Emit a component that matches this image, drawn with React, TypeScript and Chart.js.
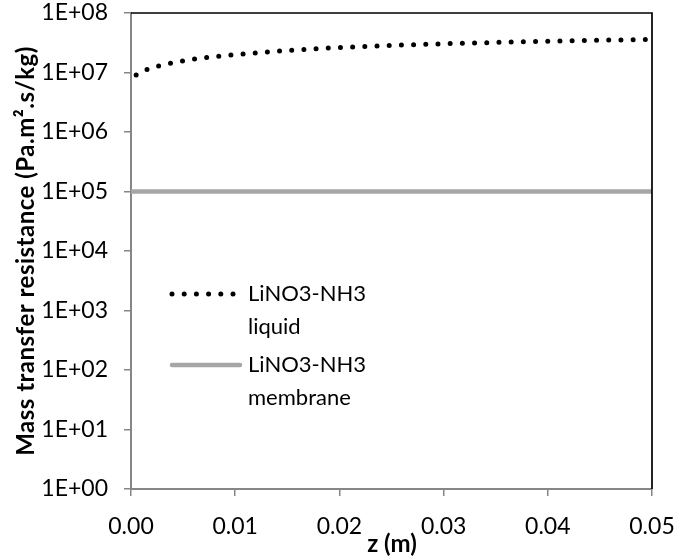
import React, { useEffect, useRef } from "react";
import { Chart, registerables } from "chart.js";

Chart.register(...registerables);

// Position along the channel (m)
const zPositions = [0, 0.001, 0.002, 0.003, 0.004, 0.005, 0.006, 0.008, 0.01, 0.012, 0.014, 0.017, 0.02, 0.025, 0.03, 0.035, 0.04, 0.045, 0.05];
// Liquid-side mass transfer resistance (Pa.m².s/kg)
const liquidResistance = [8.0e6, 1.02e7, 1.2e7, 1.33e7, 1.45e7, 1.56e7, 1.67e7, 1.85e7, 2.0e7, 2.14e7, 2.28e7, 2.46e7, 2.63e7, 2.85e7, 3.04e7, 3.2e7, 3.35e7, 3.48e7, 3.6e7];
// Membrane resistance (constant along z)
const membraneZ = [0, 0.05];
const membraneResistance = [1e5, 1e5];

const seriesNames = [["LiNO3-NH3", "liquid"], ["LiNO3-NH3", "membrane"]];

const xTickValues = [0, 0.01, 0.02, 0.03, 0.04, 0.05];
const xTickLabels = ["0.00", "0.01", "0.02", "0.03", "0.04", "0.05"];
const yTickValues = [1, 10, 100, 1e3, 1e4, 1e5, 1e6, 1e7, 1e8];
const yTickLabels = ["1E+00", "1E+01", "1E+02", "1E+03", "1E+04", "1E+05", "1E+06", "1E+07", "1E+08"];

const xTitle = "z (m)";
const yTitle = "Mass transfer resistance (Pa.m\u00B2.s/kg)";

const FONT = "Lato, 'DejaVu Sans', sans-serif";
const AXIS_GREY = "#868686";

const decorations = {
  id: "decorations",
  afterDraw(chart: any) {
    const { ctx, chartArea } = chart;
    const { left, right, top, bottom } = chartArea;
    ctx.save();

    // black frame on top and right of the plot area
    ctx.strokeStyle = "#000";
    ctx.lineWidth = 1.7;
    ctx.beginPath();
    ctx.moveTo(left, top);
    ctx.lineTo(right, top);
    ctx.lineTo(right, bottom);
    ctx.stroke();

    // axis titles
    ctx.fillStyle = "#000";
    ctx.font = `bold 24px ${FONT}`;
    ctx.textAlign = "center";
    ctx.textBaseline = "middle";
    ctx.fillText(xTitle, 392, 544);

    ctx.save();
    (ctx as any).letterSpacing = "0.5px";
    ctx.translate(34, (top + bottom) / 2);
    ctx.rotate(-Math.PI / 2);
    ctx.textBaseline = "alphabetic";
    ctx.fillText(yTitle, 0, 0);
    ctx.restore();

    // legend inside the plot area
    const rows = [294, 365];
    chart.data.datasets.forEach((ds: any, i: number) => {
      const y = rows[i];
      ctx.save();
      ctx.strokeStyle = ds.borderColor;
      ctx.lineWidth = ds.borderWidth;
      ctx.lineCap = "round";
      ctx.setLineDash(ds.borderDash || []);
      ctx.beginPath();
      ctx.moveTo(left + 41, y);
      ctx.lineTo(left + 109, y);
      ctx.stroke();
      ctx.restore();

      ctx.font = `22px ${FONT}`;
      ctx.textAlign = "left";
      ctx.textBaseline = "middle";
      ctx.fillStyle = "#000";
      seriesNames[i].forEach((line, j) => {
        ctx.fillText(line, left + 117, y + j * 33);
      });
    });

    ctx.restore();
  },
};

export default function App() {
  const canvasRef = useRef<HTMLCanvasElement | null>(null);

  useEffect(() => {
    const canvas = canvasRef.current;
    if (!canvas) return;

    const chart = new Chart(canvas, {
      type: "line",
      data: {
        datasets: [
          {
            label: seriesNames[0].join(" "),
            data: zPositions.map((z, i) => ({ x: z, y: liquidResistance[i] })),
            borderColor: "#000",
            borderWidth: 5,
            borderDash: [0, 12.2],
            borderDashOffset: 6.2,
            borderCapStyle: "round",
            cubicInterpolationMode: "monotone",
            pointRadius: 0,
            fill: false,
          },
          {
            label: seriesNames[1].join(" "),
            data: membraneZ.map((z, i) => ({ x: z, y: membraneResistance[i] })),
            borderColor: "#a6a6a6",
            borderWidth: 4.5,
            borderCapStyle: "butt",
            pointRadius: 0,
            fill: false,
          },
        ],
      },
      options: {
        responsive: false,
        animation: false,
        events: [],
        layout: { padding: { top: 13, right: 25, left: 0, bottom: 0 } },
        plugins: {
          legend: { display: false },
          tooltip: { enabled: false },
          title: { display: false },
        },
        scales: {
          x: {
            type: "linear",
            min: 0,
            max: 0.05,
            afterBuildTicks: (scale: any) => {
              scale.ticks = xTickValues.map((v) => ({ value: v }));
            },
            afterFit: (scale: any) => {
              scale.height = 68;
              scale.paddingLeft = 0;
              scale.paddingRight = 0;
            },
            ticks: {
              callback: (_v: any, i: number) => xTickLabels[i],
              font: { family: FONT, size: 23 },
              color: "#000",
              padding: 17,
              maxRotation: 0,
              autoSkip: false,
            },
            grid: {
              drawOnChartArea: false,
              drawTicks: true,
              tickLength: 7,
              color: AXIS_GREY,
              lineWidth: 1.5,
            },
            border: { color: AXIS_GREY, width: 2 },
          },
          y: {
            type: "logarithmic",
            min: 1,
            max: 1e8,
            afterBuildTicks: (scale: any) => {
              scale.ticks = yTickValues.map((v) => ({ value: v }));
            },
            afterFit: (scale: any) => {
              scale.width = 131;
              scale.paddingTop = 0;
              scale.paddingBottom = 0;
            },
            ticks: {
              callback: (_v: any, i: number) => yTickLabels[i],
              font: { family: FONT, size: 23 },
              color: "#000",
              padding: 16,
              autoSkip: false,
            },
            grid: {
              drawOnChartArea: false,
              drawTicks: true,
              tickLength: 7,
              color: AXIS_GREY,
              lineWidth: 1.5,
            },
            border: { color: AXIS_GREY, width: 2 },
          },
        },
      },
      plugins: [decorations],
    });

    return () => chart.destroy();
  }, []);

  return (
    <div style={{ position: "fixed", left: 0, top: 0, width: 677, height: 557, background: "#fff" }}>
      <canvas ref={canvasRef} width={677} height={557} style={{ display: "block" }} />
    </div>
  );
}
